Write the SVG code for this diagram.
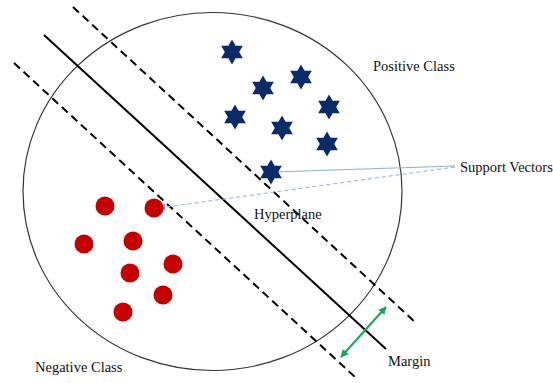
<svg xmlns="http://www.w3.org/2000/svg" width="553" height="383" viewBox="0 0 553 383">
<style>
.t{font-family:"Liberation Serif","Times New Roman",serif;font-size:14.5px;fill:#111}
.sep{stroke:#000;stroke-width:2;fill:none}
.dash{stroke:#000;stroke-width:2;fill:none;stroke-dasharray:8 5}
.pos{fill:#0b2a68}
.neg{fill:#c40000}
.sv{stroke:#8fb0d8;stroke-width:1;fill:none}
</style>
<defs>
<polygon id="star" points="0,-12.5 3.61,-6.25 10.83,-6.25 7.22,0 10.83,6.25 3.61,6.25 0,12.5 -3.61,6.25 -10.83,6.25 -7.22,0 -10.83,-6.25 -3.61,-6.25"/>
<marker id="ab" viewBox="0 0 10 10" refX="9" refY="5" markerWidth="7" markerHeight="7" orient="auto-start-reverse" markerUnits="userSpaceOnUse"><path d="M0,0 L10,5 L0,10 z" fill="#6f96c8"/></marker>
<marker id="ag" viewBox="0 0 10 10" refX="9" refY="5" markerWidth="8" markerHeight="8" orient="auto-start-reverse" markerUnits="userSpaceOnUse"><path d="M0,0 L10,5 L0,10 z" fill="#1aa35a"/></marker>
</defs>
<rect width="553" height="383" fill="#fff"/>
<g id="boundary"><ellipse cx="212.5" cy="191.5" rx="189.5" ry="179" fill="none" stroke="#333" stroke-width="1.2"/></g>
<g id="connectors">
<line class="sep" x1="44" y1="35" x2="386" y2="349"/>
<line class="dash" x1="73" y1="7" x2="415" y2="322"/>
<line class="dash" x1="14" y1="63" x2="355" y2="377"/>
<line x1="341" y1="357" x2="386" y2="307" stroke="#1aa35a" stroke-width="2" marker-start="url(#ag)" marker-end="url(#ag)"/>
<line class="sv" x1="455" y1="166" x2="273" y2="172" marker-end="url(#ab)"/>
<line class="sv" x1="455" y1="167" x2="159" y2="208" stroke-dasharray="4 3" marker-end="url(#ab)"/>
</g>
<g id="positive">
<use href="#star" class="pos" x="232" y="52"/>
<use href="#star" class="pos" x="263" y="88"/>
<use href="#star" class="pos" x="301" y="77"/>
<use href="#star" class="pos" x="329" y="107"/>
<use href="#star" class="pos" x="235" y="117"/>
<use href="#star" class="pos" x="282" y="128"/>
<use href="#star" class="pos" x="327" y="144"/>
<use href="#star" class="pos" x="271" y="172"/>
</g>
<g id="negative">
<circle class="neg" cx="105" cy="206" r="9.5"/>
<circle class="neg" cx="154" cy="208" r="9.5"/>
<circle class="neg" cx="84" cy="244" r="9.5"/>
<circle class="neg" cx="133" cy="241" r="9.5"/>
<circle class="neg" cx="173" cy="264" r="9.5"/>
<circle class="neg" cx="130" cy="273" r="9.5"/>
<circle class="neg" cx="163" cy="295" r="9.5"/>
<circle class="neg" cx="123" cy="312" r="9.5"/>
</g>
<g id="labels">
<text class="t" x="373" y="71">Positive Class</text>
<text class="t" x="35" y="372">Negative Class</text>
<text class="t" x="460" y="172">Support Vectors</text>
<text class="t" x="254" y="219">Hyperplane</text>
<text class="t" x="388" y="366">Margin</text>
</g>
</svg>
